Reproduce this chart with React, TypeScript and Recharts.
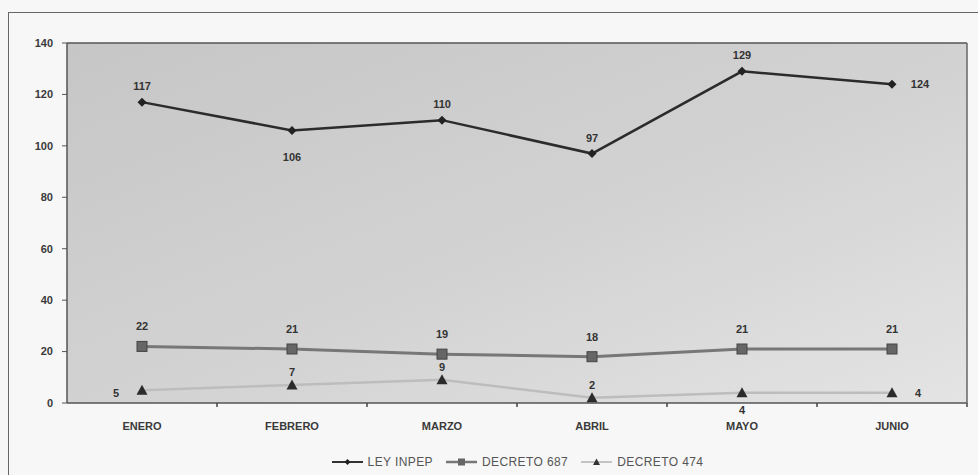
import React from 'react';
import { LineChart, Line, XAxis, YAxis, CartesianGrid, Legend, LabelList, ReferenceLine } from 'recharts';

const months = ['ENERO', 'FEBRERO', 'MARZO', 'ABRIL', 'MAYO', 'JUNIO'];
const leyInpep = [117, 106, 110, 97, 129, 124];
const decreto687 = [22, 21, 19, 18, 21, 21];
const decreto474 = [5, 7, 9, 2, 4, 4];
const yTicks = [0, 20, 40, 60, 80, 100, 120, 140];

// where each data label sits relative to its point
const leyLabelPos = ['top', 'bottom', 'top', 'top', 'top', 'right'];
const d687LabelPos = ['top', 'top', 'top', 'top', 'top', 'top'];
const d474LabelPos = ['left', 'top', 'top', 'top', 'bottom', 'right'];

const data = months.map((m, i) => ({
    month: m,
    ley: leyInpep[i],
    d687: decreto687[i],
    d474: decreto474[i],
}));

const FONT = '"Liberation Sans", Arial, sans-serif';

const makeLabel = (positions: string[], dist: { top: number; bottom: number; side: number }) =>
    (props: any) => {
        const { x, y, value, index } = props;
        const pos = positions[index] || 'top';
        let tx = x;
        let ty = y;
        if (pos === 'top') ty = y - dist.top;
        if (pos === 'bottom') ty = y + dist.bottom;
        if (pos === 'left') { tx = x - dist.side; ty = y + 3; }
        if (pos === 'right') tx = x + dist.side;
        return (
            <text x={tx} y={ty} textAnchor="middle" dominantBaseline="central"
                fontFamily={FONT} fontSize={11} fontWeight="bold" fill="#333">
                {value}
            </text>
        );
    };

const Diamond = ({ cx, cy }: any) => (
    <path d={`M${cx},${cy - 4.5}L${cx + 4.5},${cy}L${cx},${cy + 4.5}L${cx - 4.5},${cy}Z`} fill="#222" />
);
const Square = ({ cx, cy }: any) => (
    <rect x={cx - 5} y={cy - 5} width={10} height={10} fill="#666" stroke="#444" strokeWidth={1} />
);
const Triangle = ({ cx, cy }: any) => (
    <path d={`M${cx},${cy - 5.5}L${cx + 5.5},${cy + 4.5}L${cx - 5.5},${cy + 4.5}Z`} fill="#2b2b2b" />
);

// label plus a small tick on the boundary between two months
const MonthTick = (props: any) => {
    const { x, y, payload, width } = props;
    const half = width / months.length / 2;
    return (
        <g>
            <line x1={x + half} y1={y} x2={x + half} y2={y + 4} stroke="#444" strokeWidth={1.5} />
            <text x={x} y={y + 23} textAnchor="middle" dominantBaseline="central"
                fontFamily={FONT} fontSize={11} fontWeight="bold" fill="#3a3a3a">
                {payload.value}
            </text>
        </g>
    );
};

const legendItems = [
    { name: 'LEY INPEP', stroke: '#333', width: 2, mark: 'diamond' },
    { name: 'DECRETO 687', stroke: '#777', width: 2.5, mark: 'square' },
    { name: 'DECRETO 474', stroke: '#c4c4c4', width: 2, mark: 'triangle' },
];

const ChartLegend = () => (
    <div style={{ display: 'flex', justifyContent: 'center', paddingLeft: 80, fontFamily: FONT, fontSize: 12, letterSpacing: 0.4, color: '#555' }}>
        {legendItems.map((it) => (
            <div key={it.name} style={{ display: 'flex', alignItems: 'center', marginRight: 13 }}>
                <svg width={31} height={12} style={{ marginRight: 5 }}>
                    <line x1={0} y1={6} x2={31} y2={6} stroke={it.stroke} strokeWidth={it.width} />
                    {it.mark === 'diamond' && <path d="M15.5,3L18.5,6L15.5,9L12.5,6Z" fill="#222" />}
                    {it.mark === 'square' && <rect x={12} y={2.5} width={7} height={7} fill="#666" />}
                    {it.mark === 'triangle' && <path d="M15.5,2.5L19,9L12,9Z" fill="#333" />}
                </svg>
                <span>{it.name}</span>
            </div>
        ))}
    </div>
);

const App: React.FC = () => {
    return (
        <div style={{ position: 'absolute', left: 0, top: 0, width: 978, height: 475, background: '#f7f7f7', overflow: 'hidden' }}>
            <div style={{ position: 'absolute', left: 8, top: 12, width: 1000, height: 500, borderTop: '1.5px solid #666', borderLeft: '1.5px solid #666' }} />
            <div style={{ position: 'absolute', left: 0, top: 0 }}>
                <LineChart width={978} height={475} data={data} margin={{ top: 43, right: 10, left: 0, bottom: 0 }}>
                    <defs>
                        <linearGradient id="plotBg" x1="0" y1="0" x2="1" y2="1">
                            <stop offset="0%" stopColor="#c6c6c6" />
                            <stop offset="55%" stopColor="#d3d3d3" />
                            <stop offset="100%" stopColor="#e4e4e4" />
                        </linearGradient>
                    </defs>
                    <CartesianGrid horizontal={false} vertical={false} fill="url(#plotBg)" />
                    <XAxis dataKey="month" height={52} tickLine={false} tickSize={0} tickMargin={0}
                        padding={{ left: 75, right: 75 }}
                        axisLine={{ stroke: '#555', strokeWidth: 1.5 }} tick={<MonthTick />} interval={0} />
                    <YAxis domain={[0, 140]} ticks={yTicks} width={67} tickSize={5} tickMargin={9}
                        axisLine={{ stroke: '#555', strokeWidth: 1.5 }} tickLine={{ stroke: '#555' }}
                        tick={{ fontFamily: FONT, fontSize: 11, fontWeight: 'bold', fill: '#3a3a3a' }} />
                    <YAxis yAxisId="r" orientation="right" domain={[0, 140]} width={1} tick={false} tickLine={false}
                        axisLine={{ stroke: '#666', strokeWidth: 1.5 }} />
                    <ReferenceLine y={140} stroke="#555" strokeWidth={1.5} />
                    <Legend verticalAlign="bottom" height={20} content={<ChartLegend />} />
                    <Line dataKey="d474" name="DECRETO 474" stroke="#bdbdbd" strokeWidth={2.5}
                        dot={<Triangle />} activeDot={false} isAnimationActive={false}>
                        <LabelList dataKey="d474" content={makeLabel(d474LabelPos, { top: 13, bottom: 17, side: 26 })} />
                    </Line>
                    <Line dataKey="d687" name="DECRETO 687" stroke="#777" strokeWidth={3}
                        dot={<Square />} activeDot={false} isAnimationActive={false}>
                        <LabelList dataKey="d687" content={makeLabel(d687LabelPos, { top: 20, bottom: 20, side: 26 })} />
                    </Line>
                    <Line dataKey="ley" name="LEY INPEP" stroke="#2b2b2b" strokeWidth={2.5}
                        dot={<Diamond />} activeDot={false} isAnimationActive={false}>
                        <LabelList dataKey="ley" content={makeLabel(leyLabelPos, { top: 16, bottom: 27, side: 28 })} />
                    </Line>
                </LineChart>
            </div>
        </div>
    );
};

export default App;
